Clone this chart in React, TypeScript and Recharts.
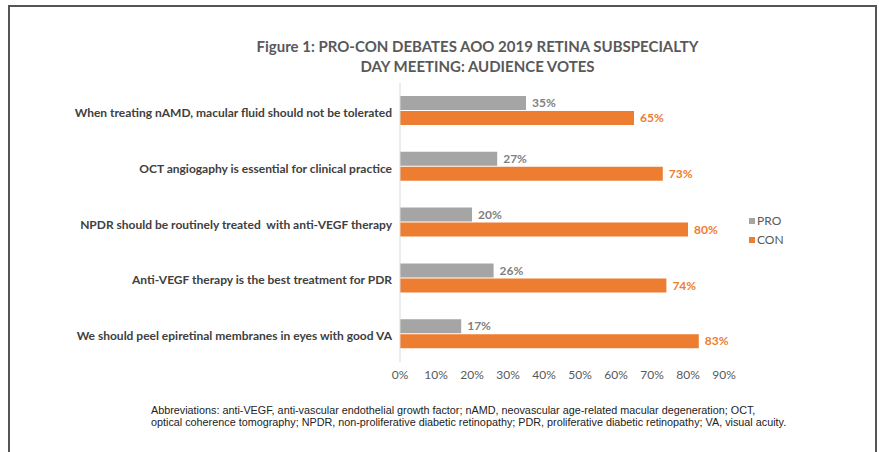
import { Bar, BarChart, LabelList, Legend, XAxis, YAxis } from "recharts";

const categories = [
  "When treating nAMD, macular fluid should not be tolerated",
  "OCT angiogaphy is essential for clinical practice",
  "NPDR should be routinely treated  with anti-VEGF therapy",
  "Anti-VEGF therapy is the best treatment for PDR",
  "We should peel epiretinal membranes in eyes with good VA",
];
const proVotes = [35, 27, 20, 26, 17];
const conVotes = [65, 73, 80, 74, 83];
const xTicks = [0, 10, 20, 30, 40, 50, 60, 70, 80, 90];

const titleLines = [
  "Figure 1: PRO-CON DEBATES AOO 2019 RETINA SUBSPECIALTY",
  "DAY MEETING: AUDIENCE VOTES",
];
const footnoteLines = [
  "Abbreviations: anti-VEGF, anti-vascular endothelial growth factor; nAMD, neovascular age-related macular degeneration; OCT,",
  "optical coherence tomography; NPDR, non-proliferative diabetic retinopathy; PDR, proliferative diabetic retinopathy; VA, visual acuity.",
];

const FONT = "Lato, 'Open Sans', sans-serif";
const GRAY = "#A5A5A5";
const ORANGE = "#ED7D31";

const series = [
  { key: "pro", name: "PRO", color: GRAY, labelColor: "#7F7F7F" },
  { key: "con", name: "CON", color: ORANGE, labelColor: ORANGE },
];

const data = categories.map((name, i) => ({
  name,
  pro: proVotes[i],
  con: conVotes[i],
}));

function CategoryTick(props: any) {
  const { x, y, payload } = props;
  return (
    <text
      x={x}
      y={y}
      dy="0.5em"
      textAnchor="end"
      fill="#404040"
      fontSize={12}
      fontWeight={700}
      fontFamily={FONT}
      style={{ whiteSpace: "pre" }}
    >
      {payload.value}
    </text>
  );
}

function LegendBox() {
  return (
    <div style={{ fontSize: 12, fontFamily: FONT, color: "#595959", lineHeight: "19px" }}>
      {series.map((s) => (
        <div key={s.key} style={{ display: "flex", alignItems: "center" }}>
          <span
            style={{
              display: "inline-block",
              width: 6,
              height: 6,
              background: s.color,
              marginRight: 2,
            }}
          />
          {s.name}
        </div>
      ))}
    </div>
  );
}

export default function App() {
  return (
    <div
      style={{
        position: "absolute",
        left: 0,
        top: 0,
        width: 879,
        height: 452,
        overflow: "hidden",
        background: "#fff",
      }}
    >
      <div
        style={{
          position: "absolute",
          left: 8,
          top: 5,
          width: 869,
          height: 447,
          boxSizing: "border-box",
          border: "2px solid #555",
          borderBottom: "none",
        }}
      />
      <div
        style={{
          position: "absolute",
          left: 0,
          top: 36,
          width: 955,
          textAlign: "center",
          fontFamily: FONT,
          fontWeight: 700,
          fontSize: 15,
          lineHeight: "20px",
          color: "#595959",
        }}
      >
        {titleLines.map((t) => (
          <div key={t}>{t}</div>
        ))}
      </div>
      <div style={{ position: "absolute", left: 0, top: 0 }}>
        <BarChart
          width={879}
          height={452}
          data={data}
          layout="vertical"
          margin={{ top: 83, right: 155, bottom: 60, left: 0 }}
          barSize={14}
          barGap={1}
        >
          <XAxis
            type="number"
            domain={[0, 90]}
            ticks={xTicks}
            tickFormatter={(v) => `${v}%`}
            axisLine={false}
            tickLine={false}
            height={30}
            tick={{ fill: "#595959", fontSize: 12, fontFamily: FONT }}
          />
          <YAxis
            type="category"
            dataKey="name"
            width={400}
            axisLine={{ stroke: "#D9D9D9" }}
            tickLine={false}
            tick={<CategoryTick />}
            interval={0}
          />
          <Legend
            layout="vertical"
            align="center"
            verticalAlign="middle"
            content={<LegendBox />}
            wrapperStyle={{ left: 749, top: 211, width: 60 }}
          />
          {series.map((s) => (
            <Bar
              key={s.key}
              dataKey={s.key}
              name={s.name}
              fill={s.color}
              isAnimationActive={false}
            >
              <LabelList
                dataKey={s.key}
                position="right"
                offset={6}
                formatter={(v: any) => `${v}%`}
                fill={s.labelColor}
                fontSize={12}
                fontWeight={700}
                fontFamily={FONT}
              />
            </Bar>
          ))}
        </BarChart>
      </div>
      <div
        style={{
          position: "absolute",
          left: 151,
          top: 404,
          fontFamily: "'Liberation Sans', Arial, sans-serif",
          fontSize: 10.8,
          lineHeight: "12px",
          color: "#222",
          whiteSpace: "nowrap",
        }}
      >
        {footnoteLines.map((t) => (
          <div key={t}>{t}</div>
        ))}
      </div>
    </div>
  );
}
